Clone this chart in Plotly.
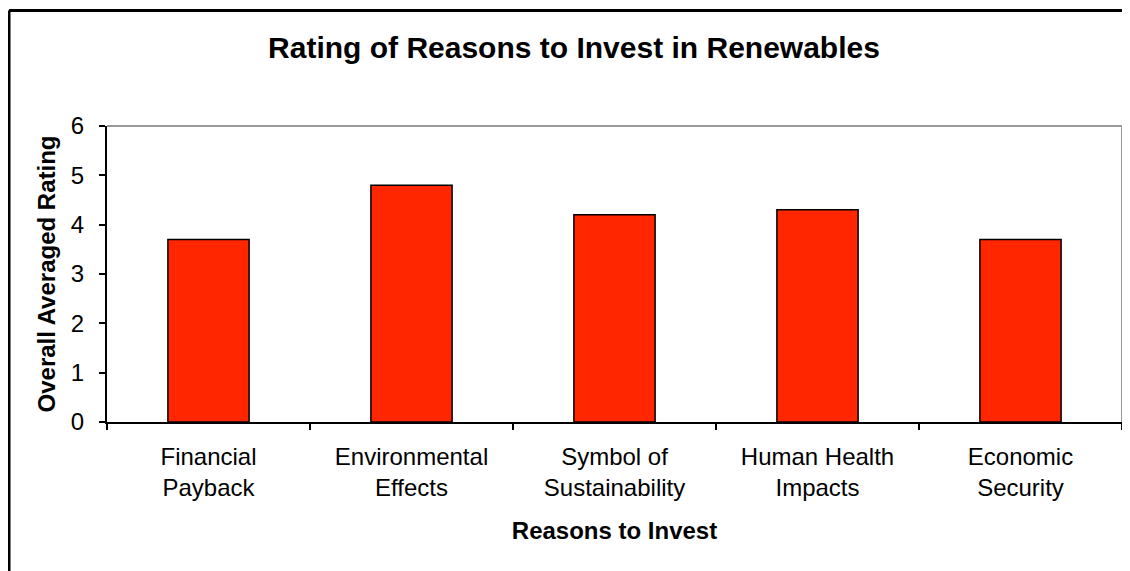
import plotly.graph_objects as go

categories = ["Financial<br>Payback", "Environmental<br>Effects", "Symbol of<br>Sustainability",
              "Human Health<br>Impacts", "Economic<br>Security"]
ratings = [3.7, 4.8, 4.2, 4.3, 3.7]
y_ticks = [0, 1, 2, 3, 4, 5, 6]

# the page body adds an 8px margin, so figure coords = page coords - 8
W, H = 1122, 563
L, R, T, B = 99, 8, 118, 149
pw, ph = W - L - R, H - T - B

def px(x):
    return (x - L) / pw

def py(y):
    return (H - B - y) / ph

fig = go.Figure(go.Bar(
    x=categories, y=ratings,
    marker=dict(color="#FF2600", line=dict(color="black", width=1.5)),
    width=0.4,
))

fig.update_layout(
    width=W, height=H,
    margin=dict(l=L, r=R, t=T, b=B),
    paper_bgcolor="white", plot_bgcolor="white",
    font=dict(family="Liberation Sans, Arial, sans-serif", color="black"),
    showlegend=False,
    title=dict(text="<b>Rating of Reasons to Invest in Renewables</b>",
               x=px(566), xref="paper", xanchor="center",
               y=1 - 39 / H, yanchor="middle",
               font=dict(size=30, color="black")),
    xaxis=dict(
        showline=True, linecolor="black", linewidth=2,
        ticks="outside", tickson="boundaries", ticklen=6, tickcolor="black", tickwidth=2,
        tickfont=dict(size=24), ticklabelstandoff=12,
        showgrid=False, zeroline=False,
        title=dict(text="<b>Reasons to Invest</b>", font=dict(size=24), standoff=22),
    ),
    yaxis=dict(
        range=[0, 6], tickvals=y_ticks,
        showline=True, linecolor="black", linewidth=2,
        ticks="outside", ticklen=6, tickcolor="black", tickwidth=2,
        tickfont=dict(size=24), ticklabelstandoff=10,
        showgrid=False, zeroline=False,
        title=dict(text="<b>Overall Averaged Rating</b>", font=dict(size=24), standoff=8),
    ),
    shapes=[
        # grey plot-area border (top and right)
        dict(type="line", xref="paper", yref="paper", x0=0, x1=1, y0=1, y1=1,
             line=dict(color="#999999", width=2)),
        dict(type="line", xref="paper", yref="paper", x0=1, x1=1, y0=0, y1=1,
             line=dict(color="#999999", width=2)),
        # outer chart border
        dict(type="line", xref="paper", yref="paper", x0=px(1), x1=px(1300), y0=py(2.5), y1=py(2.5),
             line=dict(color="black", width=3)),
        dict(type="line", xref="paper", yref="paper", x0=px(1), x1=px(1), y0=py(2.5), y1=py(900),
             line=dict(color="black", width=3)),
    ],
)

fig.write_html("out.html")
